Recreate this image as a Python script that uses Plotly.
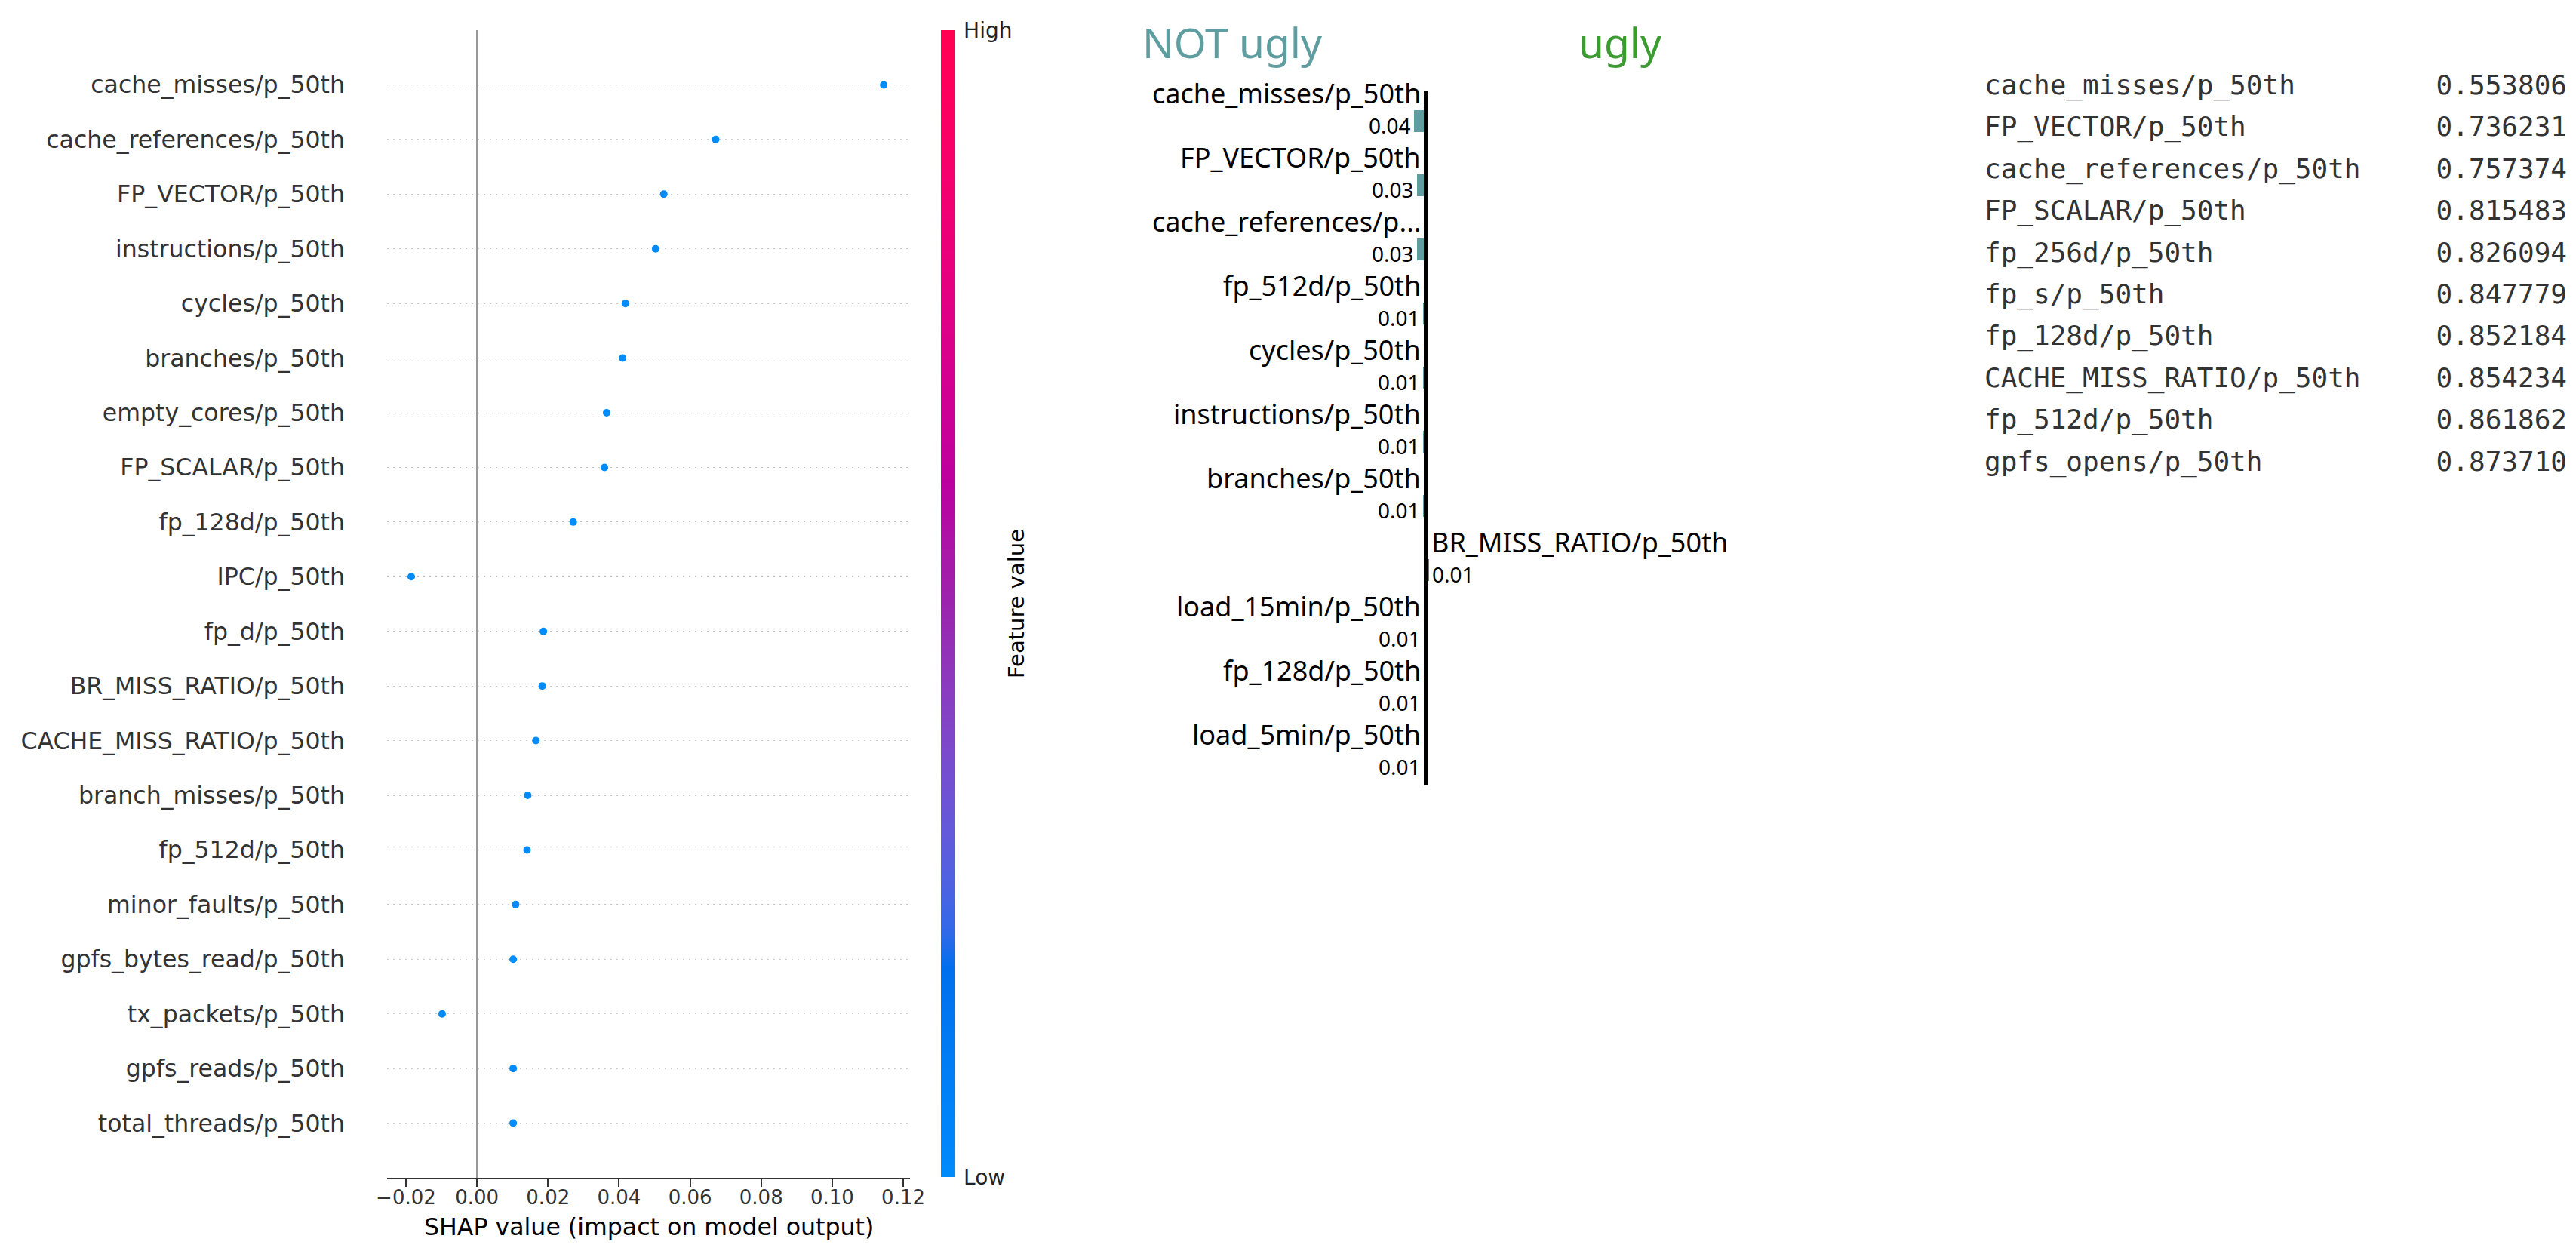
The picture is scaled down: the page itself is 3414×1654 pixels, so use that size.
import numpy as np
import plotly.graph_objects as go

W, H = 3414, 1654

# ---------------- data: SHAP summary (left panel) ----------------
shap_features = [
    "cache_misses/p_50th", "cache_references/p_50th", "FP_VECTOR/p_50th",
    "instructions/p_50th", "cycles/p_50th", "branches/p_50th",
    "empty_cores/p_50th", "FP_SCALAR/p_50th", "fp_128d/p_50th", "IPC/p_50th",
    "fp_d/p_50th", "BR_MISS_RATIO/p_50th", "CACHE_MISS_RATIO/p_50th",
    "branch_misses/p_50th", "fp_512d/p_50th", "minor_faults/p_50th",
    "gpfs_bytes_read/p_50th", "tx_packets/p_50th", "gpfs_reads/p_50th",
    "total_threads/p_50th",
]
shap_values = [0.1145, 0.0672, 0.0526, 0.0503, 0.0418, 0.0410, 0.0365, 0.0359,
               0.0271, -0.0185, 0.0187, 0.0184, 0.0166, 0.0143, 0.0141, 0.0109,
               0.0102, -0.0098, 0.0102, 0.0102]
feature_level = [0.0, 0.0, 0.0, 0.0, 0.0, 0.0, 0.0, 0.0, 0.0, 0.0,
                 0.0, 0.0, 0.0, 0.0, 0.0, 0.0, 0.0, 0.0, 0.0, 0.0]
shap_xticks = [-0.02, 0.00, 0.02, 0.04, 0.06, 0.08, 0.10, 0.12]

# ---------------- data: LIME explanation (middle panel) ----------------
lime_class_names = ["NOT ugly", "ugly"]
lime_labels = [
    "cache_misses/p_50th", "FP_VECTOR/p_50th", "cache_references/p...",
    "fp_512d/p_50th", "cycles/p_50th", "instructions/p_50th",
    "branches/p_50th", "BR_MISS_RATIO/p_50th", "load_15min/p_50th",
    "fp_128d/p_50th", "load_5min/p_50th",
]
lime_weights = [-0.036, -0.028, -0.027, -0.009, -0.009, -0.009, -0.009,
                0.008, -0.008, -0.008, -0.008]

# ---------------- data: table (right panel) ----------------
table_names = [
    "cache_misses/p_50th", "FP_VECTOR/p_50th", "cache_references/p_50th",
    "FP_SCALAR/p_50th", "fp_256d/p_50th", "fp_s/p_50th", "fp_128d/p_50th",
    "CACHE_MISS_RATIO/p_50th", "fp_512d/p_50th", "gpfs_opens/p_50th",
]
table_values = [0.553806, 0.736231, 0.757374, 0.815483, 0.826094, 0.847779,
                0.852184, 0.854234, 0.861862, 0.873710]

# ---------------- shap red_blue colormap (LCH interpolation) ----------------
def lch_to_rgb(l, c, h):
    a, b = c * np.cos(h), c * np.sin(h)
    fy = (l + 16.0) / 116.0
    fx, fz = fy + a / 500.0, fy - b / 200.0

    def finv(t):
        return t ** 3 if t ** 3 > 0.008856 else (t - 16.0 / 116.0) / 7.787

    X, Y, Z = 0.95047 * finv(fx), finv(fy), 1.08883 * finv(fz)
    m = np.array([[3.24048134, -1.53715152, -0.49853633],
                  [-0.96925495, 1.87599, 0.04155593],
                  [0.05564664, -0.20404134, 1.05731107]])
    rgb = m @ np.array([X, Y, Z])
    out = []
    for v in rgb:
        v = 1.055 * v ** (1 / 2.4) - 0.055 if v > 0.0031308 else 12.92 * v
        out.append(int(round(255 * min(max(v, 0.0), 1.0))))
    return "rgb(%d,%d,%d)" % tuple(out)

nsteps = 100
l_vals = list(np.linspace(54.0, 40.0, nsteps // 2)) + list(np.linspace(40.0, 54.0, nsteps // 2))
c_vals = np.linspace(70.0, 90.0, nsteps)
h_vals = np.linspace(4.6588, 0.35470565 + 2 * np.pi, nsteps)
pos = np.linspace(0, 1, nsteps)
colorscale = [[float(pos[k]), lch_to_rgb(l_vals[k], c_vals[k], h_vals[k])]
              for k in range(0, nsteps, 3)] + [[1.0, lch_to_rgb(l_vals[-1], c_vals[-1], h_vals[-1])]]


def px_x(p):
    return p / W


def px_y(p):
    return 1 - p / H


n = len(shap_features)
ypos = [n - 1 - i for i in range(n)]

fig = go.Figure()

fig.add_trace(go.Scatter(
    x=shap_values, y=ypos, mode="markers",
    marker=dict(size=10, color=feature_level, colorscale=colorscale, cmin=0, cmax=1,
                line=dict(width=0), showscale=True,
                colorbar=dict(x=px_x(1239), xanchor="left", y=px_y(32), yanchor="top",
                              len=1520, lenmode="pixels", thickness=19, thicknessmode="pixels",
                              xpad=0, ypad=0, outlinewidth=0, tickvals=[0, 1],
                              ticktext=["Low", "High"], ticks="outside", ticklen=6,
                              tickcolor="rgba(0,0,0,0)",
                              tickfont=dict(family="DejaVu Sans", size=28, color="#222222"))),
    xaxis="x", yaxis="y", showlegend=False, hoverinfo="skip",
))

# ---- LIME bars ----
lime_idx = list(range(len(lime_labels)))
lime_colors = ["#5F9EA0" if w < 0 else "#3c9c32" for w in lime_weights]
fig.add_trace(go.Bar(
    x=lime_weights, y=lime_idx, orientation="h", width=29 / 85,
    marker=dict(color=lime_colors, line=dict(width=0)),
    xaxis="x2", yaxis="y2", showlegend=False, hoverinfo="skip",
))

# ---- table ----
t_idx = list(range(len(table_names)))
fig.add_trace(go.Scatter(
    x=[0] * len(table_names), y=t_idx, mode="text", text=table_names,
    textposition="middle right",
    textfont=dict(family="DejaVu Sans Mono", size=36, color="#333333"),
    xaxis="x3", yaxis="y3", showlegend=False, hoverinfo="skip",
))
fig.add_trace(go.Scatter(
    x=[1] * len(table_values), y=t_idx, mode="text",
    text=["%.6f" % v for v in table_values], textposition="middle left",
    textfont=dict(family="DejaVu Sans Mono", size=36, color="#333333"),
    xaxis="x3", yaxis="y3", showlegend=False, hoverinfo="skip",
))

annotations = []
# LIME feature labels and values
for i, (lab, w) in enumerate(zip(lime_labels, lime_weights)):
    neg = w < 0
    annotations.append(dict(
        x=0, y=i - 0.435, xref="x2", yref="y2", text=lab, showarrow=False,
        xanchor="right" if neg else "left", xshift=-5 if neg else 5, yanchor="middle",
        font=dict(family="Noto Sans", size=36, color="#000000")))
    annotations.append(dict(
        x=w, y=i + 0.06, xref="x2", yref="y2", text="%.2f" % abs(w), showarrow=False,
        xanchor="right" if neg else "left", xshift=-2 if neg else 2, yanchor="middle",
        font=dict(family="Noto Sans", size=28, color="#000000")))
# LIME class titles
annotations.append(dict(x=-0.588, y=px_y(48), xref="x2", yref="paper", text=lime_class_names[0],
                        showarrow=False, xanchor="center", yanchor="middle",
                        font=dict(family="Noto Sans", size=55, color="#5F9EA0")))
annotations.append(dict(x=0.588, y=px_y(48), xref="x2", yref="paper", text=lime_class_names[1],
                        showarrow=False, xanchor="center", yanchor="middle",
                        font=dict(family="Noto Sans", size=55, color="#3c9c32")))
# SHAP axis title and colorbar title
annotations.append(dict(x=(px_x(505) + px_x(1198)) / 2, y=px_y(1618), xref="paper", yref="paper",
                        text="SHAP value (impact on model output)", showarrow=False,
                        xanchor="center", yanchor="middle",
                        font=dict(family="DejaVu Sans", size=31.6, color="#000000")))
annotations.append(dict(x=px_x(1339), y=px_y(792), xref="paper", yref="paper",
                        text="Feature value", textangle=-90, showarrow=False,
                        xanchor="center", yanchor="middle",
                        font=dict(family="DejaVu Sans", size=29, color="#000000")))

shapes = [dict(type="line", xref="x2", yref="y2", x0=0, x1=0, y0=-0.465,
               y1=len(lime_labels) - 1 + 0.35, line=dict(color="black", width=6), layer="above")]

fig.update_layout(
    width=W, height=H, margin=dict(l=0, r=0, t=0, b=0, autoexpand=False),
    paper_bgcolor="white", plot_bgcolor="white",
    annotations=annotations, shapes=shapes, bargap=0,
    xaxis=dict(domain=[px_x(505), px_x(1198)], range=[-0.0253, 0.1219],
               tickvals=shap_xticks, tickformat=".2f",
               tickfont=dict(family="DejaVu Sans", size=26, color="#333333"),
               showline=True, linecolor="#333333", linewidth=2,
               ticks="outside", ticklen=10, tickwidth=2, tickcolor="#333333",
               ticklabelstandoff=-8,
               showgrid=False, zeroline=True, zerolinecolor="#999999", zerolinewidth=3,
               anchor="y", fixedrange=True, automargin=False),
    yaxis=dict(domain=[px_y(1553), px_y(32)], range=[-1, n],
               tickvals=ypos, ticktext=shap_features,
               tickfont=dict(family="DejaVu Sans", size=31.6, color="#333333"),
               ticklabelstandoff=55, showline=False, ticks="",
               showgrid=True, gridcolor="#cccccc", gridwidth=1.3, griddash="2px,6px",
               zeroline=False, anchor="x", fixedrange=True, automargin=False),
    xaxis2=dict(domain=[px_x(1368), px_x(2396)], range=[-1.176, 1.176], visible=False,
                anchor="y2", fixedrange=True, automargin=False),
    yaxis2=dict(domain=[px_y(1060), px_y(60)], range=[(1060 - 152.5) / 85, (60 - 152.5) / 85],
                visible=False, anchor="x2", fixedrange=True, automargin=False),
    xaxis3=dict(domain=[px_x(2622), px_x(3394)], range=[0, 1], visible=False,
                anchor="y3", fixedrange=True, automargin=False),
    yaxis3=dict(domain=[px_y(640), px_y(80)], range=[(640 - 108) / 55.4, (80 - 108) / 55.4],
                visible=False, anchor="x3", fixedrange=True, automargin=False),
)

fig.write_html("out.html")
